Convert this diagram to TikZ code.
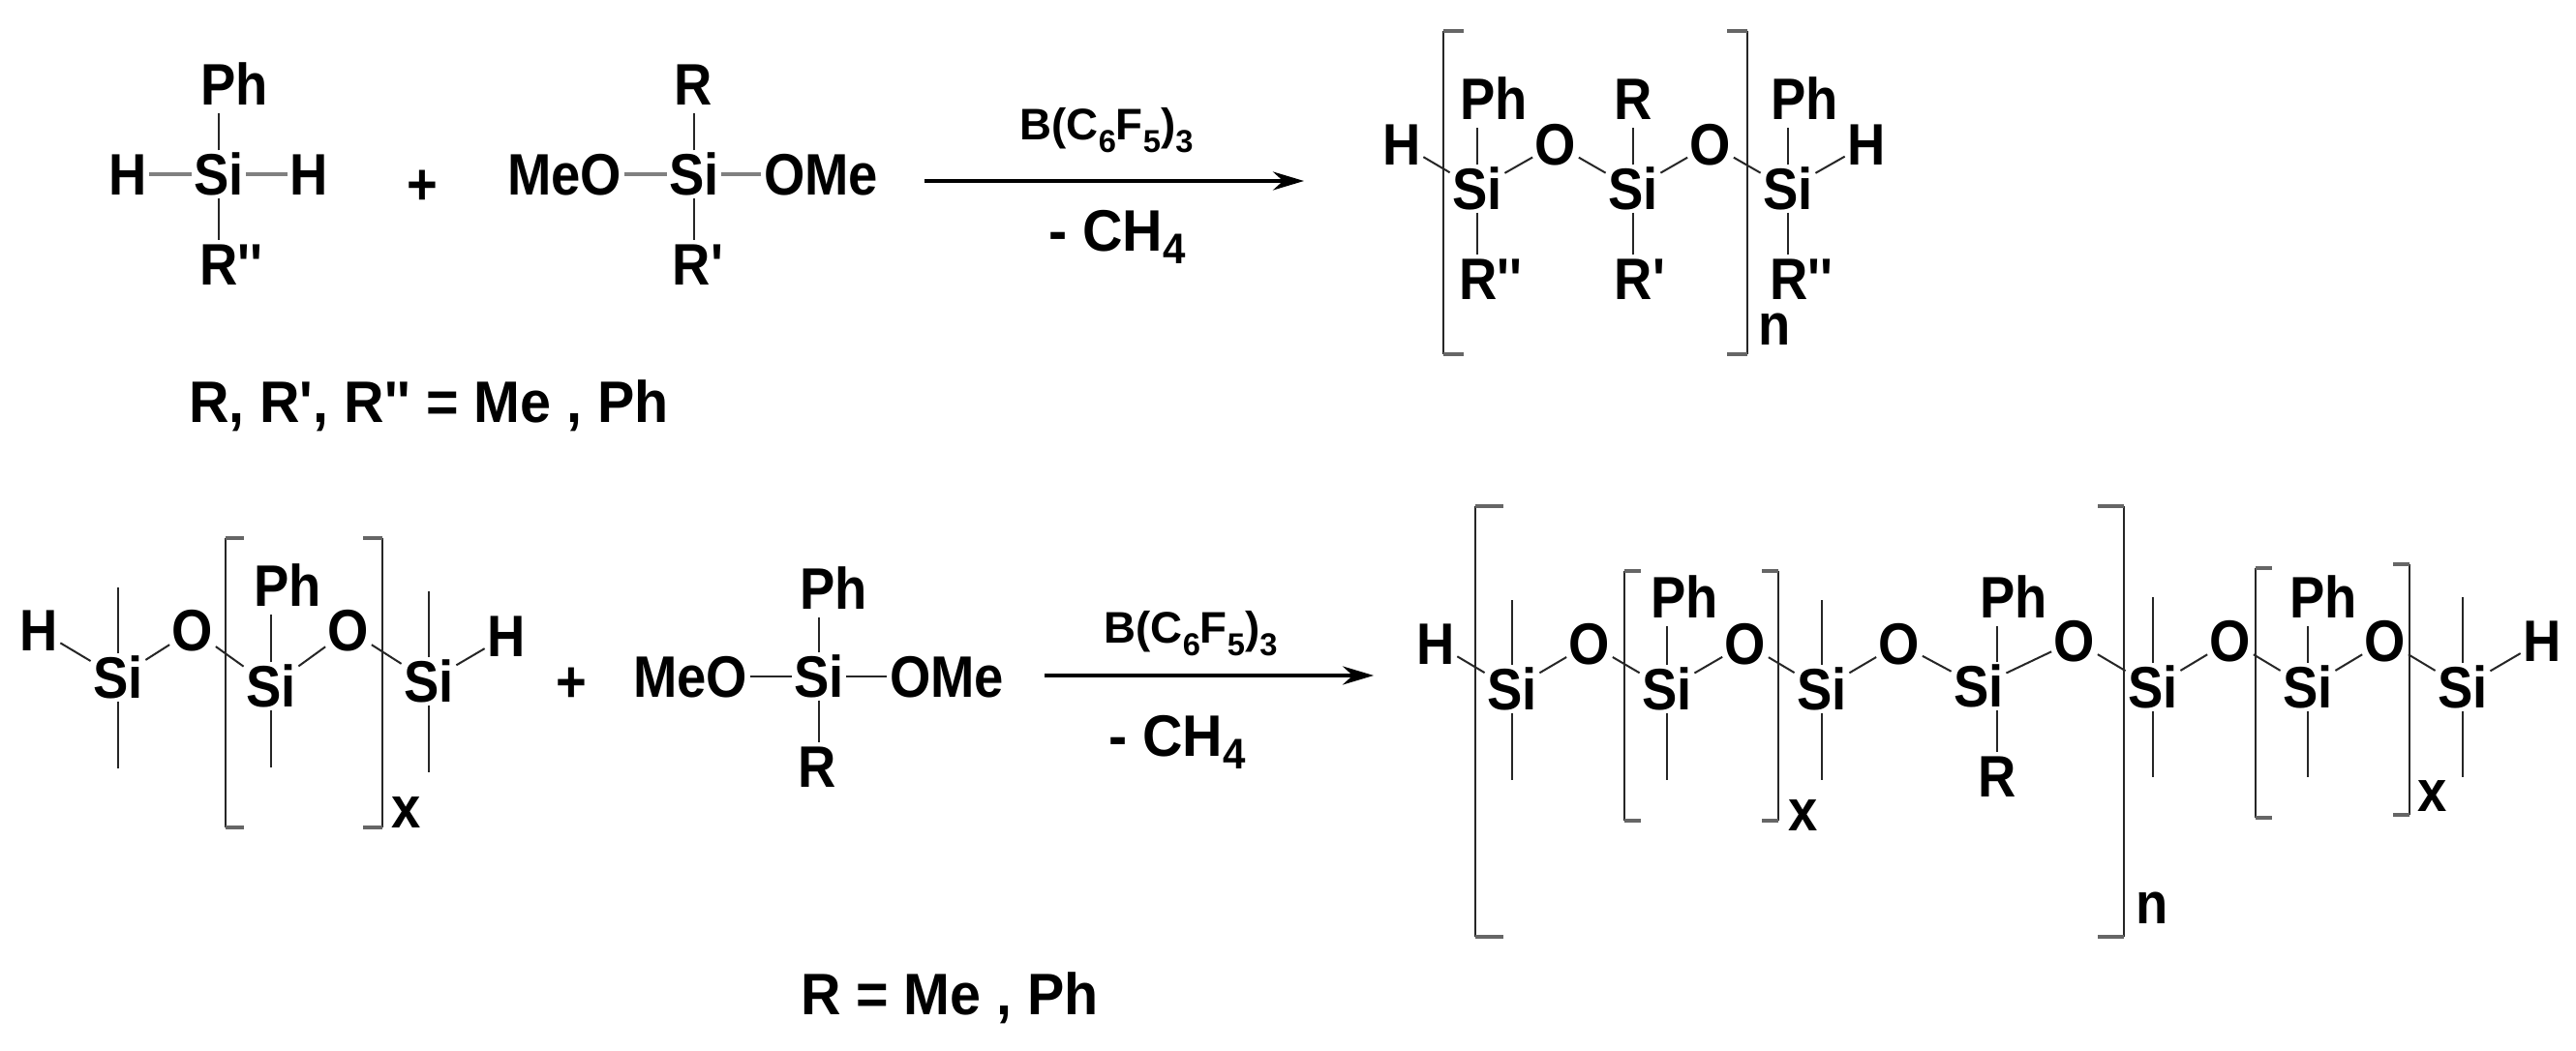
\documentclass[tikz,border=0pt]{standalone}
\usepackage{fontspec}
\setmainfont[Ligatures=TeXOff,FakeStretch=0.9]{Liberation Sans}
\newfontfamily\widefont[Ligatures=TeXOff,FakeStretch=0.95]{Liberation Sans}
\newfontfamily\catfont[Ligatures=TeXOff]{Liberation Sans}
\usepackage{tikz}
\usetikzlibrary{arrows.meta,positioning}
\tikzset{
  atom/.style={inner xsep=.02cm,inner ysep=.02cm,text height=.44cm,text depth=0cm,font=\fontsize{17.2}{20}\bfseries\selectfont},
  phatom/.style={atom,inner ysep=.07cm},
  idx/.style={inner sep=0pt,font=\fontsize{17.2}{20}\bfseries\selectfont},
  cat/.style={inner sep=0pt,anchor=base,font=\catfont\fontsize{13}{16}\bfseries\selectfont},
  loss/.style={inner sep=0pt,anchor=base,font=\widefont\fontsize{17.2}{20}\bfseries\selectfont},
  bond/.style={line width=.02cm,black!85},
  hbond/.style={line width=.04cm,black!50},
  rxn/.style={line width=.035cm,-{Stealth[length=.32cm,width=.19cm]}},
}
\newcommand{\PolyBrk}[4]{%
  \draw[line width=.022cm,black!85] (#1cm,#3cm) -- (#1cm,#4cm);
  \draw[line width=.035cm,black!60] (#1cm,#3cm) -- (#2cm,#3cm);
  \draw[line width=.035cm,black!60] (#1cm,#4cm) -- (#2cm,#4cm);
}
\newcommand{\CatSub}[1]{\raisebox{-.13cm}{\fontsize{9.3}{11}\bfseries\selectfont #1}}
\newcommand{\LossSub}[1]{\raisebox{-.13cm}{\fontsize{12.6}{14}\bfseries\selectfont #1}}
\begin{document}
\begin{tikzpicture}
%
\useasboundingbox (0,0) rectangle (26.61cm,10.85cm);
%
% first row, silane
\node[atom] (asi) at (2.26cm,9.05cm) {Si};
\node[phatom] (aph) at (2.42cm,9.98cm) {Ph};
\node[atom] (ahl) at (1.32cm,9.05cm) {H};
\node[atom] (ahr) at (3.19cm,9.05cm) {H};
\node[atom] (arr) at (2.39cm,8.12cm) {R''};
\node[atom] (aplus) at (4.36cm,8.95cm) {+};
% first row, methoxysilane
\node[atom] (bsi) at (7.17cm,9.05cm) {Si};
\node[atom] (bmeo) at (5.83cm,9.05cm) {MeO};
\node[atom] (bome) at (8.48cm,9.05cm) {OMe};
\node[phatom] (br) at (7.16cm,9.98cm) {R};
\node[atom] (brp) at (7.21cm,8.12cm) {R'};
%
\coordinate (astart) at (9.55cm,8.98cm);
\coordinate (aend) at (13.47cm,8.98cm);
\node[cat] (acat) at (11.43cm,9.40cm) {B(C\CatSub{6}F\CatSub{5})\CatSub{3}};
\node[loss] (aloss) at (11.54cm,8.25cm) {- CH\LossSub{4}};
\node[loss] (alegend) at (4.43cm,6.48cm) {R, R', R'' = Me , Ph};
%
% first row, product
\node[atom] (chl) at (14.48cm,9.36cm) {H};
\node[atom] (csa) at (15.26cm,8.90cm) {Si};
\node[phatom] (cpa) at (15.43cm,9.83cm) {Ph};
\node[atom] (cra) at (15.40cm,7.97cm) {R''};
\node[atom] (coa) at (16.07cm,9.36cm) {O};
\node[atom] (csb) at (16.87cm,8.90cm) {Si};
\node[phatom] (crt) at (16.87cm,9.83cm) {R};
\node[atom] (crb) at (16.94cm,7.97cm) {R'};
\node[atom] (cob) at (17.67cm,9.36cm) {O};
\node[atom] (csc) at (18.47cm,8.90cm) {Si};
\node[phatom] (cpc) at (18.64cm,9.83cm) {Ph};
\node[atom] (crc) at (18.61cm,7.97cm) {R''};
\node[atom] (chr) at (19.28cm,9.36cm) {H};
\node[idx] (cn) at (18.33cm,7.45cm) {n};
%
% second row, oligomer
\node[atom] (dhl) at (0.40cm,4.34cm) {H};
\node[atom] (dsa) at (1.22cm,3.85cm) {Si};
\node[atom] (doa) at (1.99cm,4.34cm) {O};
\node[atom] (dsb) at (2.80cm,3.76cm) {Si};
\node[phatom] (dpb) at (2.97cm,4.80cm) {Ph};
\node[atom] (dob) at (3.60cm,4.34cm) {O};
\node[atom] (dsc) at (4.43cm,3.81cm) {Si};
\node[atom] (dhr) at (5.23cm,4.28cm) {H};
\node[idx] (dx) at (4.20cm,2.45cm) {x};
\coordinate (dat) at (1.22cm,4.78cm);
\coordinate (dab) at (1.22cm,2.91cm);
\coordinate (dbb) at (2.80cm,2.92cm);
\coordinate (dct) at (4.43cm,4.74cm);
\coordinate (dcb) at (4.43cm,2.87cm);
\node[atom] (dplus) at (5.90cm,3.81cm) {+};
% second row, methoxysilane
\node[atom] (esi) at (8.46cm,3.86cm) {Si};
\node[atom] (emeo) at (7.13cm,3.86cm) {MeO};
\node[atom] (eome) at (9.78cm,3.86cm) {OMe};
\node[phatom] (eph) at (8.61cm,4.77cm) {Ph};
\node[atom] (er) at (8.44cm,2.93cm) {R};
%
\coordinate (bstart) at (10.79cm,3.87cm);
\coordinate (bend) at (14.19cm,3.87cm);
\node[cat] (bcat) at (12.30cm,4.20cm) {B(C\CatSub{6}F\CatSub{5})\CatSub{3}};
\node[loss] (bloss) at (12.16cm,3.03cm) {- CH\LossSub{4}};
\node[loss] (blegend) at (9.81cm,0.37cm) {R = Me , Ph};
%
% second row, product
\node[atom] (fhl) at (14.83cm,4.20cm) {H};
\node[atom] (fsa) at (15.62cm,3.73cm) {Si};
\node[atom] (foa) at (16.42cm,4.20cm) {O};
\node[atom] (fsb) at (17.22cm,3.73cm) {Si};
\node[phatom] (fpb) at (17.40cm,4.68cm) {Ph};
\node[atom] (fob) at (18.03cm,4.20cm) {O};
\node[atom] (fsc) at (18.82cm,3.73cm) {Si};
\node[atom] (foc) at (19.62cm,4.20cm) {O};
\node[atom] (fsd) at (20.44cm,3.76cm) {Si};
\node[phatom] (fpd) at (20.80cm,4.68cm) {Ph};
\node[atom] (frd) at (20.63cm,2.83cm) {R};
\node[atom] (fod) at (21.43cm,4.23cm) {O};
\node[atom] (fse) at (22.24cm,3.75cm) {Si};
\node[atom] (foe) at (23.04cm,4.23cm) {O};
\node[atom] (fsf) at (23.84cm,3.75cm) {Si};
\node[phatom] (fpf) at (24.00cm,4.68cm) {Ph};
\node[atom] (fof) at (24.64cm,4.23cm) {O};
\node[atom] (fsg) at (25.44cm,3.75cm) {Si};
\node[atom] (fhr) at (26.26cm,4.23cm) {H};
\node[idx] (fxa) at (18.63cm,2.42cm) {x};
\node[idx] (fxb) at (25.13cm,2.62cm) {x};
\node[idx] (fn) at (22.23cm,1.47cm) {n};
\coordinate (fat) at (15.62cm,4.65cm);
\coordinate (fab) at (15.62cm,2.79cm);
\coordinate (fbb) at (17.22cm,2.79cm);
\coordinate (fct) at (18.82cm,4.65cm);
\coordinate (fcb) at (18.82cm,2.79cm);
\coordinate (fet) at (22.24cm,4.68cm);
\coordinate (feb) at (22.24cm,2.82cm);
\coordinate (ffb) at (23.84cm,2.82cm);
\coordinate (fgt) at (25.44cm,4.68cm);
\coordinate (fgb) at (25.44cm,2.82cm);
%
% reactants of the first row
\draw[bond] (asi.north) -- (asi.north |- aph.south);
\draw[bond] (asi.south) -- (asi.south |- arr.north);
\draw[hbond] (ahl) -- (asi);
\draw[hbond] (asi) -- (ahr);
\draw[bond] (bsi.north) -- (bsi.north |- br.south);
\draw[bond] (bsi.south) -- (bsi.south |- brp.north);
\draw[hbond] (bmeo) -- (bsi);
\draw[hbond] (bsi) -- (bome);
\draw[rxn] (astart) -- (aend);
%
\draw[bond] (csa.north) -- (csa.north |- cpa.south);
\draw[bond] (csa.south) -- (csa.south |- cra.north);
\draw[bond] (csb.north) -- (csb.north |- crt.south);
\draw[bond] (csb.south) -- (csb.south |- crb.north);
\draw[bond] (csc.north) -- (csc.north |- cpc.south);
\draw[bond] (csc.south) -- (csc.south |- crc.north);
\draw[bond] (chl) -- (csa);
\draw[bond] (csa) -- (coa);
\draw[bond] (coa) -- (csb);
\draw[bond] (csb) -- (cob);
\draw[bond] (cob) -- (csc);
\draw[bond] (csc) -- (chr);
%
\draw[bond] (dsa.north) -- (dat);
\draw[bond] (dsa.south) -- (dab);
\draw[bond] (dsb.north) -- (dsb.north |- dpb.south);
\draw[bond] (dsb.south) -- (dbb);
\draw[bond] (dsc.north) -- (dct);
\draw[bond] (dsc.south) -- (dcb);
\draw[bond] (dhl) -- (dsa);
\draw[bond] (dsa) -- (doa);
\draw[bond] (doa) -- (dsb);
\draw[bond] (dsb) -- (dob);
\draw[bond] (dob) -- (dsc);
\draw[bond] (dsc) -- (dhr);
%
\draw[bond] (esi.north) -- (esi.north |- eph.south);
\draw[bond] (esi.south) -- (esi.south |- er.north);
\draw[bond] (emeo) -- (esi);
\draw[bond] (esi) -- (eome);
\draw[rxn] (bstart) -- (bend);
%
\draw[bond] (fsa.north) -- (fat);
\draw[bond] (fsa.south) -- (fab);
\draw[bond] (fsb.north) -- (fsb.north |- fpb.south);
\draw[bond] (fsb.south) -- (fbb);
\draw[bond] (fsc.north) -- (fct);
\draw[bond] (fsc.south) -- (fcb);
\draw[bond] (frd.north |- fsd.north) -- (frd.north |- fpd.south);
\draw[bond] (frd.north |- fsd.south) -- (frd.north);
\draw[bond] (fse.north) -- (fet);
\draw[bond] (fse.south) -- (feb);
\draw[bond] (fsf.north) -- (fsf.north |- fpf.south);
\draw[bond] (fsf.south) -- (ffb);
\draw[bond] (fsg.north) -- (fgt);
\draw[bond] (fsg.south) -- (fgb);
\draw[bond] (fhl) -- (fsa);
\draw[bond] (fsa) -- (foa);
\draw[bond] (foa) -- (fsb);
\draw[bond] (fsb) -- (fob);
\draw[bond] (fob) -- (fsc);
\draw[bond] (fsc) -- (foc);
\draw[bond] (foc) -- (fsd);
\draw[bond] (fsd) -- (fod);
\draw[bond] (fod) -- (fse);
\draw[bond] (fse) -- (foe);
\draw[bond] (foe) -- (fsf);
\draw[bond] (fsf) -- (fof);
\draw[bond] (fof) -- (fsg);
\draw[bond] (fsg) -- (fhr);
%
% brackets
\PolyBrk{14.91}{15.12}{10.53}{7.19}
\PolyBrk{18.05}{17.84}{10.53}{7.19}
\PolyBrk{2.33}{2.52}{5.29}{2.30}
\PolyBrk{3.95}{3.75}{5.29}{2.30}
\PolyBrk{15.24}{15.53}{5.62}{1.17}
\PolyBrk{21.94}{21.67}{5.62}{1.17}
\PolyBrk{16.78}{16.95}{4.95}{2.37}
\PolyBrk{18.37}{18.20}{4.95}{2.37}
\PolyBrk{23.30}{23.47}{4.98}{2.40}
\PolyBrk{24.89}{24.72}{5.02}{2.43}
%
\end{tikzpicture}
\end{document}
